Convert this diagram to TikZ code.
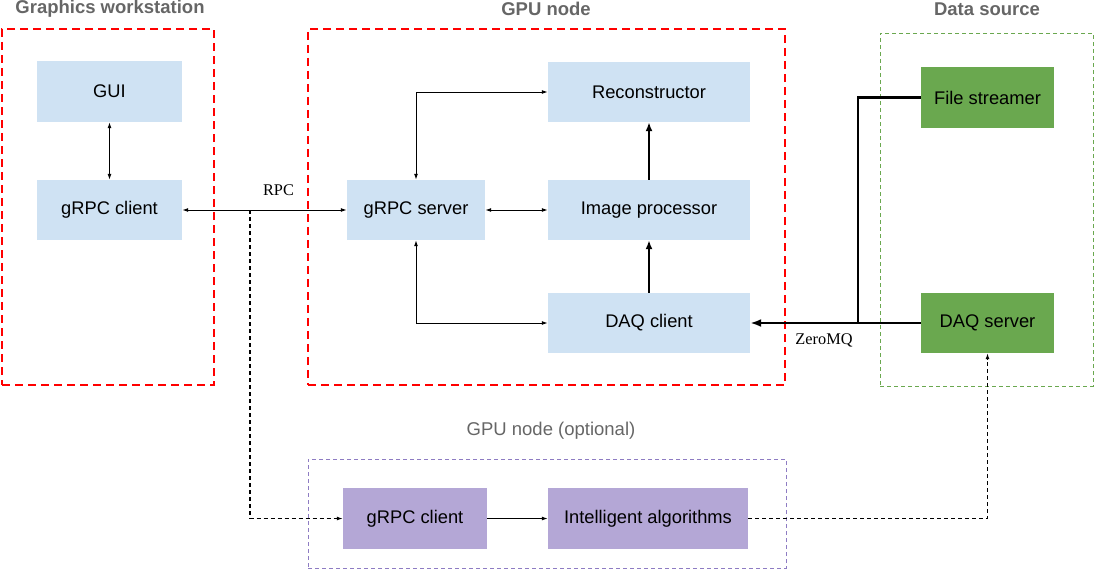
\documentclass[tikz,border=0pt]{standalone}
\usepackage{fontspec}
\setmainfont{Liberation Sans}
\newfontfamily\serifl{Liberation Serif}
\usetikzlibrary{arrows.meta}
\definecolor{boxblue}{HTML}{CFE2F3}
\definecolor{boxgreen}{HTML}{6AA84F}
\definecolor{boxpurple}{HTML}{B4A7D6}
\definecolor{edgepurple}{HTML}{8E7CC3}
\definecolor{titlegray}{HTML}{666666}
\tikzset{
  x=1pt, y=-1pt,
  blk/.style={rectangle, inner sep=0pt, font=\fontsize{18.3}{22}\selectfont},
  blue/.style={blk, fill=boxblue, minimum width=202pt, minimum height=60pt},
  green/.style={blk, fill=boxgreen, minimum width=133pt, minimum height=61pt},
  purple/.style={blk, fill=boxpurple, minimum height=61pt},
  redbox/.style={draw=red, line width=2.4pt, dash pattern=on 8pt off 5pt, inner sep=0pt},
  thinbox/.style={line width=1pt, dash pattern=on 4pt off 3pt, inner sep=0pt},
  title/.style={text=titlegray, font=\bfseries\fontsize{18.5}{22}\selectfont},
  lbl/.style={font=\serifl\fontsize{16.3}{19}\selectfont},
  conn/.style={line width=1pt, {Latex[length=6pt,width=4pt]}-{Latex[length=6pt,width=4pt]}},
  one/.style={line width=1pt, -{Latex[length=6pt,width=4pt]}},
  dconn/.style={line width=1.1pt, dash pattern=on 4pt off 3pt, -{Latex[length=6pt,width=4pt]}},
  thk/.style={line width=2.2pt, -{Latex[length=9pt,width=7pt]}},
  thkl/.style={line width=2.2pt},
}
\begin{document}
\begin{tikzpicture}
\useasboundingbox (0,0) rectangle (1095,570);
% containers
\node[redbox, minimum width=212pt, minimum height=356pt] (gw) at (108,207) {};
\node[redbox, minimum width=477pt, minimum height=356pt] (gpu) at (546.5,207) {};
\node[thinbox, draw=boxgreen, minimum width=213pt, minimum height=353pt] (ds) at (986.5,209.5) {};
\node[thinbox, draw=edgepurple, minimum width=478pt, minimum height=109pt] (opt) at (547,513.5) {};
% titles
\node[title] (t1) at (110,9) {Graphics workstation};
\node[title] (t2) at (546,9) {GPU node};
\node[title] (t3) at (987,9) {Data source};
\node[text=titlegray, font=\fontsize{18.5}{22}\selectfont] (t4) at (551,431) {GPU node (optional)};
% blocks
\node[blue, minimum width=145pt, minimum height=61pt] (gui) at (109.5,91.5) {GUI};
\node[blue, minimum width=145pt] (gc) at (109.5,210) {gRPC client};
\node[blue] (rec) at (649,92) {Reconstructor};
\node[blue, minimum width=138pt] (gs) at (416,210) {gRPC server};
\node[blue] (ip) at (649,210) {Image processor};
\node[blue] (dc) at (649,323) {DAQ client};
\node[green] (fs) at (987.5,97.5) {File streamer};
\node[green, minimum height=60pt] (dsv) at (987.5,323) {DAQ server};
\node[purple, minimum width=144pt] (pc) at (415,518.5) {gRPC client};
\node[purple, minimum width=200pt] (ia) at (648,518.5) {Intelligent algorithms};
% connectors
\draw[conn] (gui) -- (gc);
\draw[conn] (gc) -- (gs);
\node[lbl] (rpc) at (278.5,190) {RPC};
\coordinate (split) at (250,210);
\draw[dconn] (split) |- (pc.west);
\draw[conn] (gs) -- (ip);
\draw[conn] (gs.north) |- (rec.west);
\draw[conn] (gs.south) |- (dc.west);
\draw[thk] (ip) -- (rec);
\draw[thk] (dc) -- (ip);
\draw[thk, -{Latex[length=11pt,width=8pt]}] (dsv) -- (dc);
\coordinate (join) at (858,323);
\draw[thkl] (fs.west) -| (join);
\node[lbl] (zmq) at (824,340) {ZeroMQ};
\draw[one] (pc) -- (ia);
\draw[dconn] (ia.east) -| (dsv.south);
\end{tikzpicture}
\end{document}
